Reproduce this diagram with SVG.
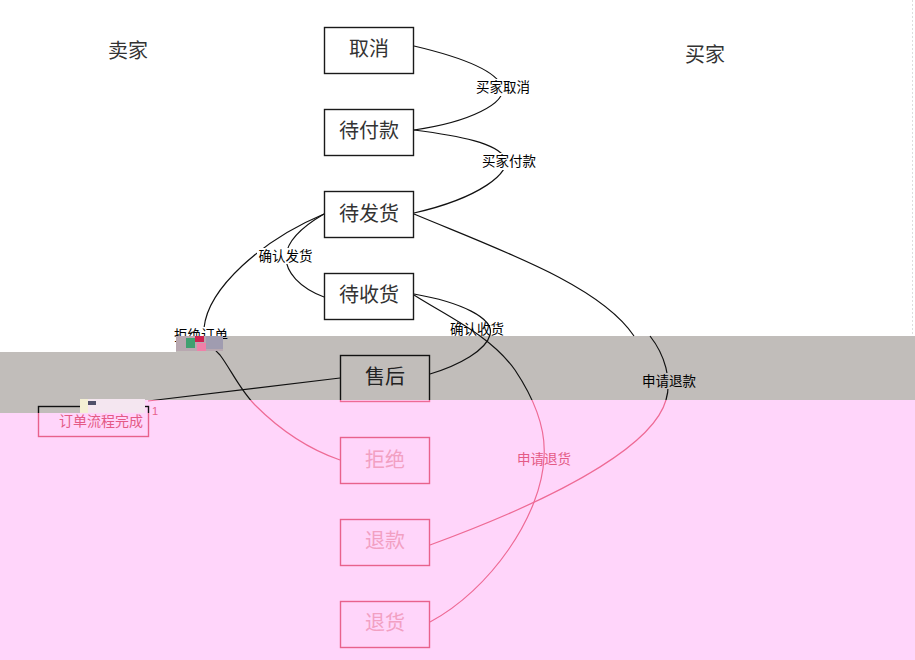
<svg xmlns="http://www.w3.org/2000/svg" width="915" height="660" viewBox="0 0 915 660">
<defs>
<style>
.nt{font-family:"Noto Sans CJK SC","Noto Sans",sans-serif;font-size:20px;text-anchor:middle}
.top rect{fill:none;stroke:#1a1a1a;stroke-width:1.4}
.top text{fill:#333}
.mid rect{fill:none;stroke:url(#eg);stroke-width:1.4}
.mid text{fill:#222}
.pink rect{fill:none;stroke:#e8628c;stroke-width:1.4}
.pink text{fill:#f2a0c2}
.lbl{font-family:"Noto Sans CJK SC","Noto Sans",sans-serif;font-size:13.5px;text-anchor:middle;fill:#000}
.edge{fill:none;stroke:url(#eg);stroke-width:1.2}
.title{font-family:"Noto Sans CJK SC","Noto Sans",sans-serif;font-size:20px;text-anchor:middle;fill:#333}
</style>
<linearGradient id="eg" gradientUnits="userSpaceOnUse" x1="0" y1="0" x2="0" y2="660">
<stop offset="0.606" stop-color="#111"/><stop offset="0.606" stop-color="#ee6a95"/>
</linearGradient>
<linearGradient id="eg2" gradientUnits="userSpaceOnUse" x1="0" y1="0" x2="0" y2="660">
<stop offset="0.6258" stop-color="#111"/><stop offset="0.6258" stop-color="#e8628c"/>
</linearGradient>
</defs>
<g id="background">
<rect width="915" height="660" fill="#fff"/>
<path d="M0,413 H145 V400 H915 V660 H0 Z" fill="#ffd5fa"/>
<path d="M0,352 H176 V336 H915 V400 H145 V413 H0 Z" fill="#c1bdba"/>
<line x1="912.5" y1="0" x2="912.5" y2="336" stroke="#ddd" stroke-dasharray="2 2"/>
</g>
<g id="lanes">
<text class="title" x="128" y="57.5">卖家</text>
<text class="title" x="705" y="61.5">买家</text>
</g>
<g id="connectors">
<path class="edge" d="M414,46 C465,58 497,72 502,87 C507,103 470,122 414,130"/>
<path class="edge" d="M414,130 C460,136 497,143 505,158 C512,172 480,198 414,213"/>
<path class="edge" d="M324,214 C300,228 287,242 286,256 C285,272 300,288 324,297"/>
<path class="edge" d="M324,214 C262,240 208,288 204,328 C203,338 210,345 220,355 C230,368 240,390 255,405 C275,425 305,448 340,460"/>
<path class="edge" d="M414,294 C460,302 495,318 490,335 C486,350 460,365 430,374"/>
<path class="edge" d="M414,295 C445,315 490,335 515,370 C535,400 546,430 544,457 C542,515 490,590 430,622"/>
<path class="edge" d="M414,214 C500,250 600,285 634,336"/>
<path class="edge" d="M650,336 C665,355 672,380 666,400 C655,440 580,490 430,545"/>
<path class="edge" d="M340,378 L148,401"/>
</g>
<g id="n-cancel" class="top"><rect x="324.5" y="27.5" width="89" height="46"/><text class="nt" x="369" y="56">取消</text></g>
<g id="n-pay" class="top"><rect x="324.5" y="109.5" width="89" height="46"/><text class="nt" x="369" y="138">待付款</text></g>
<g id="n-ship" class="top"><rect x="324.5" y="191.5" width="89" height="46"/><text class="nt" x="369" y="220.5">待发货</text></g>
<g id="n-receive" class="top"><rect x="324.5" y="273.5" width="89" height="46"/><text class="nt" x="369" y="301.5">待收货</text></g>
<g id="n-aftersale" class="mid"><rect x="340.5" y="355.5" width="89" height="46"/><text class="nt" x="385" y="384">售后</text></g>
<g id="n-reject" class="pink"><rect x="340.5" y="437.5" width="89" height="46"/><text class="nt" x="385" y="466.5">拒绝</text></g>
<g id="n-refund" class="pink"><rect x="340.5" y="519.5" width="89" height="46"/><text class="nt" x="385" y="548">退款</text></g>
<g id="n-return" class="pink"><rect x="340.5" y="601.5" width="89" height="46"/><text class="nt" x="385" y="629.5">退货</text></g>
<g id="n-done"><rect x="38.5" y="406.5" width="110" height="30" fill="none" stroke="url(#eg2)" stroke-width="1.4"/><text x="101" y="426" font-family="Noto Sans CJK SC, Noto Sans, sans-serif" font-size="14" text-anchor="middle" fill="#e45a85">订单流程完成</text></g>
<g id="labels">
<rect x="475" y="79" width="57" height="17" fill="#fff"/><text class="lbl" x="503" y="92">买家取消</text>
<rect x="480" y="153" width="58" height="17" fill="#fff"/><text class="lbl" x="509" y="166">买家付款</text>
<rect x="257" y="248" width="58" height="16" fill="#fff"/><text class="lbl" x="285.5" y="261">确认发货</text>
<rect x="173" y="327" width="56" height="9" fill="#fff"/><text class="lbl" x="201" y="340">拒绝订单</text>
<text class="lbl" x="477" y="333.5">确认收货</text>
<rect x="640" y="373" width="58" height="16" fill="#c1bdba"/><text class="lbl" x="669" y="386">申请退款</text>
<text class="lbl" x="544" y="463.5" style="fill:#e45a85">申请退货</text>
<text x="155" y="415" font-family="Liberation Sans, sans-serif" font-size="11" text-anchor="middle" fill="#e8628c">1</text>
</g>
<g id="artifacts">
<rect x="176" y="336" width="47" height="15" fill="#b8a8b0"/>
<rect x="186" y="338" width="9" height="10" fill="#40a070"/>
<rect x="195" y="336" width="9" height="6" fill="#d02050"/>
<rect x="197" y="343" width="9" height="8" fill="#f080a8"/>
<rect x="206" y="336" width="17" height="13" fill="#a09cb0"/>
<rect x="80" y="399" width="65" height="14" fill="#f4e6f0"/>
<rect x="80" y="399" width="8" height="14" fill="#f4f0d4"/>
<rect x="88" y="401" width="8" height="4" fill="#50506a"/>
</g>
</svg>
